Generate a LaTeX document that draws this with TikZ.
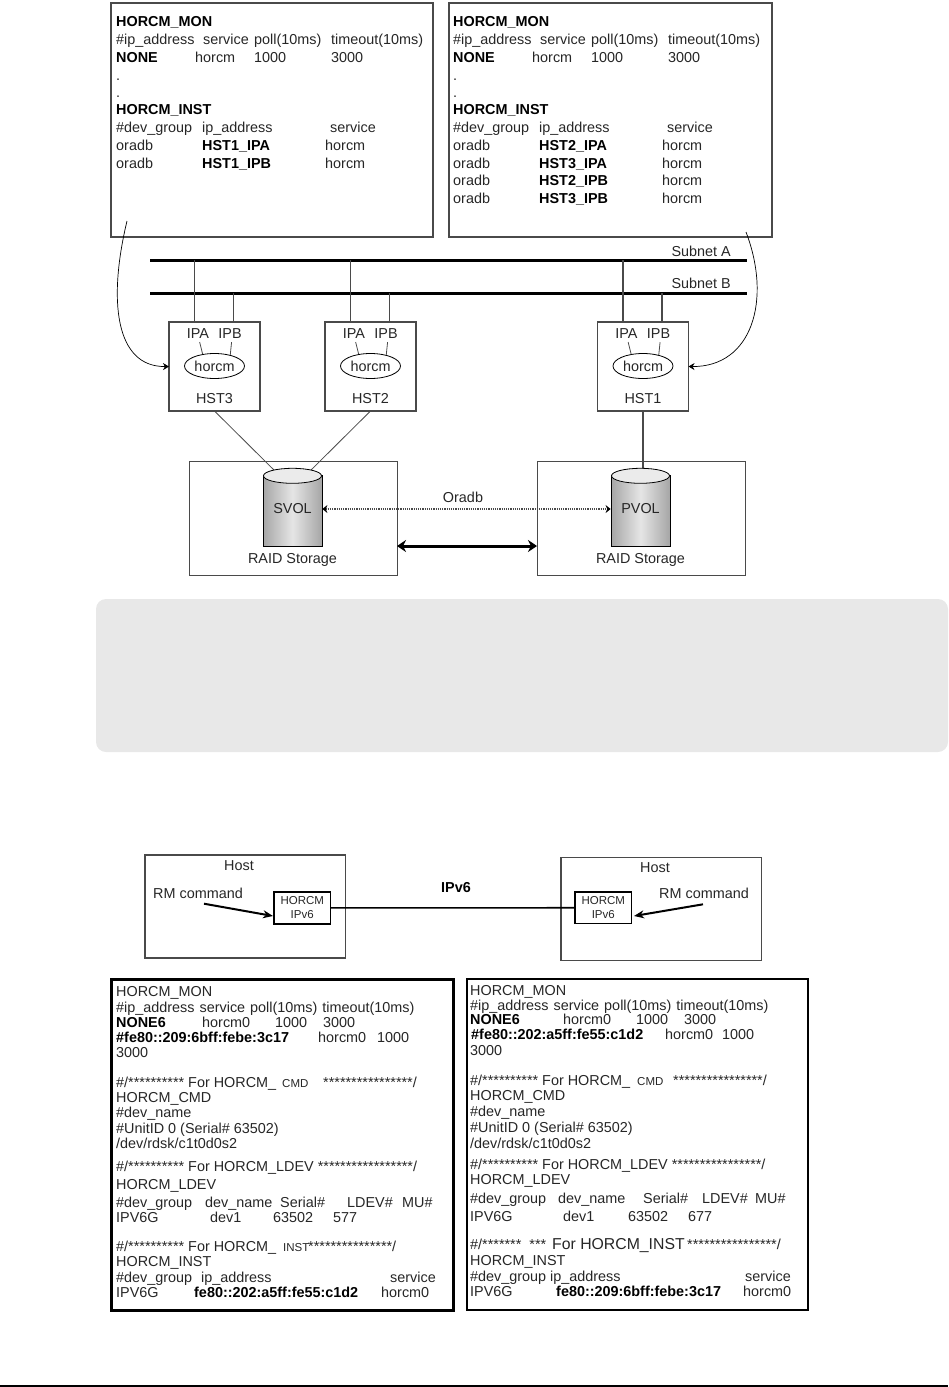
\documentclass[tikz,border=0pt]{standalone}
\usepackage{fontspec}
\setmainfont{Liberation Sans}
\usetikzlibrary{arrows.meta}
\usetikzlibrary{shapes.geometric}

\definecolor{textgray}{HTML}{262626}
\definecolor{linegray}{HTML}{4A4A4A}
\definecolor{notegray}{HTML}{E8E8E8}

\tikzset{
  txt/.style={anchor=base west, inner sep=0pt, text=textgray, font=\fontsize{14.4}{16}\selectfont},
  txtb/.style={txt, font=\fontsize{14.4}{16}\selectfont\bfseries, text=black},
  txts/.style={txt, font=\fontsize{11.5}{13}\selectfont},
  lbl/.style={inner sep=0pt, text=textgray, font=\fontsize{14.4}{16}\selectfont},
  cfgbox/.style={draw=linegray, line width=1.3pt, anchor=north west, inner sep=0pt, outer sep=0pt},
  hstbox/.style={draw=linegray, line width=1.2pt, anchor=north west, inner sep=0pt, outer sep=0pt, minimum width=91, minimum height=89},
  raidbox/.style={draw=linegray, line width=1pt, anchor=north west, inner sep=0pt, outer sep=0pt, minimum width=208, minimum height=114},
  hostbox/.style={draw=linegray, line width=1.1pt, anchor=north west, inner sep=0pt, outer sep=0pt, minimum width=200.5, minimum height=103},
  horcmbox/.style={draw=black, line width=1.6pt, anchor=north west, inner sep=0pt, outer sep=0pt, minimum width=56.5, minimum height=31.5, align=center, text=textgray, font=\fontsize{11.5}{14}\selectfont},
  listbox/.style={draw=black, line width=2.4pt, anchor=north west, inner sep=0pt, outer sep=0pt},
  horcmoval/.style={draw=black, ellipse, line width=.8pt, inner sep=0pt, minimum width=60, minimum height=25, text=textgray, font=\fontsize{14.4}{16}\selectfont},
  vol/.style={cylinder, shape border rotate=90, draw=black, line width=.8pt, aspect=.5, inner sep=0pt, minimum width=59, minimum height=71, left color=black!35, right color=black!35, middle color=black!10},
  bus/.style={black, line width=3pt},
  tap/.style={linegray, line width=1.1pt},
  thinlink/.style={linegray, line width=.8pt},
  curved/.style={black, line width=.7pt, -{Stealth[length=6pt,width=7pt]}},
  rmarrow/.style={black, line width=2pt, -{Stealth[length=10pt,width=8pt]}},
}

\begin{document}
\begin{tikzpicture}[x=1pt,y=-1pt]
\useasboundingbox (0,0) rectangle (948,1387);

% config files on top
\node[cfgbox, minimum width=322, minimum height=234] (cfga) at (111,3) {};
\node[cfgbox, minimum width=323, minimum height=234] (cfgb) at (449,3) {};
\foreach \o/\n in {0/a,337/b} {
 \node[txtb] (mon\n) at (116+\o,26) {HORCM\_MON};
 \node[txt] (ip\n) at (116+\o,44) {\#ip\_address};
 \node[txt] (srv\n) at (203+\o,44) {service};
 \node[txt] (poll\n) at (254+\o,44) {poll(10ms)};
 \node[txt] (tout\n) at (331+\o,44) {timeout(10ms)};
 \node[txtb] (none\n) at (116+\o,62) {NONE};
 \node[txt] (hm\n) at (195+\o,62) {horcm};
 \node[txt] (pv\n) at (254+\o,62) {1000};
 \node[txt] (tv\n) at (331+\o,62) {3000};
 \node[txt] (doa\n) at (116+\o,80) {.};
 \node[txt] (dob\n) at (116+\o,97) {.};
 \node[txtb] (inst\n) at (116+\o,114) {HORCM\_INST};
 \node[txt] (grp\n) at (116+\o,132) {\#dev\_group};
 \node[txt] (adr\n) at (202+\o,132) {ip\_address};
 \node[txt] (svc\n) at (330+\o,132) {service};
}
\foreach \y/\h in {150/HST1\_IPA,168/HST1\_IPB} {
 \node[txt] (da\y) at (116,\y) {oradb};
 \node[txtb] (ha\y) at (202,\y) {\h};
 \node[txt] (sa\y) at (325,\y) {horcm};
}
\foreach \y/\h in {150/HST2\_IPA,168/HST3\_IPA,185/HST2\_IPB,203/HST3\_IPB} {
 \node[txt] (db\y) at (453,\y) {oradb};
 \node[txtb] (hb\y) at (539,\y) {\h};
 \node[txt] (sb\y) at (662,\y) {horcm};
}

% subnets
\coordinate (sal) at (150,260);
\coordinate (sar) at (747,260);
\coordinate (sbl) at (150,293);
\coordinate (sbr) at (747,293);
\draw[bus] (sal) -- (sar);
\draw[bus] (sbl) -- (sbr);
\node[lbl, anchor=base east] (suba) at (731,256) {Subnet A};
\node[lbl, anchor=base east] (subb) at (731,288) {Subnet B};

% hosts
\foreach \x/\n in {169/3,325/2,597.5/1} {
 \node[hstbox] (hst\n) at (\x,322) {};
 \node[lbl] (ipa\n) at (\x+29,334) {IPA};
 \node[lbl] (ipb\n) at (\x+61,334) {IPB};
 \node[horcmoval] (orb\n) at (\x+45.5,366) {horcm};
 \node[lbl] (nm\n) at (\x+45.5,399) {HST\n};
 \coordinate (ta\n) at (\x+25.5,260);
 \coordinate (tb\n) at (\x+64.5,293);
 \draw[tap] (ta\n) -- (ta\n |- hst\n.north);
 \draw[tap] (tb\n) -- (tb\n |- hst\n.north);
 \draw[thinlink, shorten <=3pt] (ipa\n.280) -- (orb\n.135);
 \draw[thinlink, shorten <=3pt] (ipb\n.-70) -- (orb\n.35);
}
\coordinate (cfrom) at (127,221);
\coordinate (cto) at (746,232);
\draw[curved] (cfrom) .. controls (108,300) and (115,367) .. (hst3.west);
\draw[curved] (cto) .. controls (772,300) and (752,367) .. (hst1.east);

% storage
\coordinate (sdl) at (280,476);
\coordinate (sdr) at (305,476);
\coordinate (pdt) at (643,471);
\draw[thinlink] (hst3.south) -- (sdl);
\draw[thinlink] (hst2.south) -- (sdr);
\draw[linegray, line width=1.1pt] (hst1.south) -- (pdt);
\foreach \x/\n/\v in {189/s/SVOL,537/p/PVOL} {
 \node[raidbox] (raid\n) at (\x,461) {};
 \node[vol] (vol\n) at (\x+103.5,511.5) {};
 \path (vol\n.before top) -- (vol\n.after top) coordinate[midway] (cap\n);
 \fill[black!8] (cap\n) ellipse (29pt and 7.5pt);
 \draw[line width=.8pt] (cap\n) ellipse (29pt and 7.5pt);
 \node[lbl] (vl\n) at (\x+103.5,509) {\v};
 \node[lbl] (rs\n) at (\x+103.5,560) {RAID Storage};
}
\node[lbl] (oradb) at (463,497) {Oradb};
\draw[linegray, line width=1.2pt, densely dotted, {Stealth[length=5pt,width=8pt,black]}-{Stealth[length=5pt,width=8pt,black]}] (vols.east |- vls) -- (volp.west |- vlp);
\coordinate (tky) at (0,546);
\draw[black, line width=3pt, {Stealth[length=9pt,width=12pt]}-{Stealth[length=9pt,width=12pt]}] (raids.east |- tky) -- (raidp.west |- tky);

% note panel
\fill[notegray, rounded corners=10pt] (96,599) rectangle (948,752);

% ipv6 hosts
\node[hostbox] (hostl) at (145,855) {};
\node[hostbox] (hostr) at (561,857.5) {};
\node[lbl] (hnl) at (239,866) {Host};
\node[lbl] (hnr) at (655,868) {Host};
\node[lbl] (rml) at (198,893) {RM command};
\node[lbl] (rmr) at (704,893) {RM command};
\node[horcmbox] (hbl) at (274,892.2) {HORCM\\IPv6};
\node[horcmbox] (hbr) at (575,892) {HORCM\\IPv6};
\node[lbl, font=\fontsize{14.4}{16}\selectfont\bfseries, text=black] (ipsix) at (456,888) {IPv6};
\coordinate (al) at (204,903.7);
\coordinate (ar) at (703,904.3);
\coordinate (ahl) at (273,916);
\coordinate (ahr) at (634,916);
\draw[black, line width=1.6pt] (hbl) -- (hbr);
\draw[rmarrow] (al) -- (ahl);
\draw[rmarrow] (ar) -- (ahr);

% ipv6 config files
\node[listbox, minimum width=342, minimum height=331] (lstl) at (111.5,979.5) {};
\node[listbox, minimum width=341, minimum height=331] (lstr) at (467,979) {};

\foreach \y/\t [count=\i] in {996/HORCM\_MON,
   1012/\#ip\_address\kern1pt\ service\kern1pt\ poll(10ms)\kern1pt\ timeout(10ms),
   1057/3000,
   1087/{\#/********** For HORCM\_},
   1102/HORCM\_CMD,1117/\#dev\_name,
   1133/\#UnitID 0 (Serial\# 63502),
   1148/{/dev/rdsk/c1t0d0s2},
   1171/{\#/********** For HORCM\_LDEV *****************/},
   1189/HORCM\_LDEV,
   1222/IPV6G,
   1251/{\#/********** For HORCM\_},
   1266/HORCM\_INST,
   1282/\#dev\_group,
   1297/IPV6G} {
 \node[txt] (ll\i) at (116,\y) {\t};
}
\node[txtb] (lna) at (116,1027) {NONE6};
\node[txt] (lnb) at (202,1027) {horcm0};
\node[txt] (lnc) at (275,1027) {1000};
\node[txt] (lnd) at (323,1027) {3000};
\node[txtb] (lfa) at (116,1042) {\#fe80::209:6bff:febe:3c17};
\node[txt] (lfb) at (318,1042) {horcm0};
\node[txt] (lfc) at (377,1042) {1000};
\node[txts] (lca) at (282,1087) {CMD};
\node[txt] (lcb) at (323,1087) {****************/};
\foreach \x/\t [count=\i] in {116/\#dev\_group,205/dev\_name,280/Serial\#,347/LDEV\#,402/MU\#} {
 \node[txt] (lh\i) at (\x,1207) {\t};
}
\node[txt] (lva) at (210,1222) {dev1};
\node[txt] (lvb) at (273,1222) {63502};
\node[txt] (lvc) at (333,1222) {577};
\node[txts] (lia) at (283,1251) {INST};
\node[txt] (lib) at (308,1251) {***************/};
\node[txt] (lga) at (201,1282) {ip\_address};
\node[txt] (lgb) at (390,1282) {service};
\node[txtb] (lga6) at (194,1297) {fe80::202:a5ff:fe55:c1d2};
\node[txt] (lgc) at (381,1297) {horcm0};

\foreach \y/\t [count=\i] in {995/HORCM\_MON,
   1010/\#ip\_address\kern1pt\ service\kern1pt\ poll(10ms)\kern1pt\ timeout(10ms),
   1055/3000,
   1085/{\#/********** For HORCM\_},
   1100/HORCM\_CMD,1116/\#dev\_name,
   1132/\#UnitID 0 (Serial\# 63502),
   1148/{/dev/rdsk/c1t0d0s2},
   1169/{\#/********** For HORCM\_LDEV ****************/},
   1184/HORCM\_LDEV,
   1221/IPV6G,
   1249/{\#/*******\ \ ***},
   1265/HORCM\_INST,
   1281/\#dev\_group,
   1296/IPV6G} {
 \node[txt] (rl\i) at (470,\y) {\t};
}
\node[txtb] (rna) at (470,1024) {NONE6};
\node[txt] (rnb) at (563,1024) {horcm0};
\node[txt] (rnc) at (636,1024) {1000};
\node[txt] (rnd) at (684,1024) {3000};
\node[txtb] (rfa) at (471,1039) {\#fe80::202:a5ff:fe55:c1d2};
\node[txt] (rfb) at (665,1039) {horcm0};
\node[txt] (rfc) at (722,1039) {1000};
\node[txts] (rca) at (637,1085) {CMD};
\node[txt] (rcb) at (673,1085) {****************/};
\foreach \x/\t [count=\i] in {470/\#dev\_group,558/dev\_name,643/Serial\#,702/LDEV\#,755/MU\#} {
 \node[txt] (rh\i) at (\x,1203) {\t};
}
\node[txt] (rva) at (563,1221) {dev1};
\node[txt] (rvb) at (628,1221) {63502};
\node[txt] (rvc) at (688,1221) {677};
\node[txt, font=\fontsize{15.8}{16}\selectfont] (rif) at (552,1249) {For HORCM\_INST};
\node[txt] (ris) at (687,1249) {****************/};
\node[txt] (rga) at (550,1281) {ip\_address};
\node[txt] (rgb) at (745,1281) {service};
\node[txtb] (rga6) at (556,1296) {fe80::209:6bff:febe:3c17};
\node[txt] (rgc) at (743,1296) {horcm0};

% rule at the foot of the page
\fill[black] (0,1385) rectangle (948,1387);
\end{tikzpicture}
\end{document}
